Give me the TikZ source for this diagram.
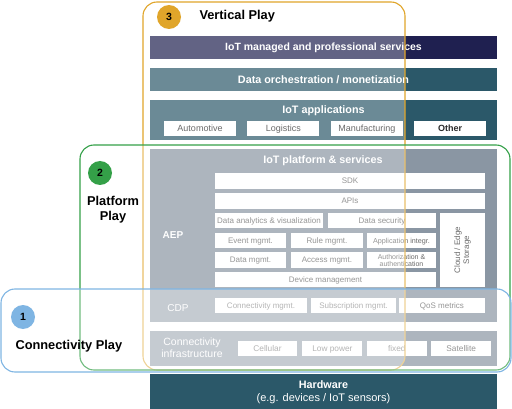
\documentclass[tikz,border=0pt]{standalone}
\usepackage{fontspec}
\setmainfont{Liberation Sans}
\usetikzlibrary{positioning}

\definecolor{navy}{HTML}{1F2050}
\definecolor{teal}{HTML}{2B5869}
\definecolor{slate}{HTML}{58697C}
\definecolor{subtext}{HTML}{2A2A2A}
\definecolor{vertical}{HTML}{E0A52A}
\definecolor{platform}{HTML}{34A048}
\definecolor{connect}{HTML}{7FB5E3}

\begin{document}
\begin{tikzpicture}[x=1pt, y=-1pt,
    layer/.style={rectangle, inner sep=0pt, minimum width=347pt},
    title/.style={text=white, font=\bfseries\fontsize{10.8}{12}\selectfont},
    side/.style={text=white, font=\fontsize{10}{11}\selectfont, align=center},
    sub/.style={rectangle, fill=white, inner sep=0pt, text=subtext, font=\fontsize{8}{9}\selectfont, minimum height=15pt, text height=0.72em, text depth=0.2em},
    app/.style={sub, minimum width=72pt, font=\fontsize{9}{10}\selectfont},
    link/.style={sub, minimum width=60pt, font=\fontsize{8.3}{9}\selectfont},
    play/.style={rounded corners=14pt, line width=1.1pt, fill=white, fill opacity=0.3},
    badge/.style={circle, minimum size=24pt, inner sep=0pt, font=\bfseries\fontsize{10.5}{12}\selectfont},
    playlabel/.style={font=\bfseries\fontsize{12.8}{15}\selectfont, align=center}
]
\useasboundingbox (0,0) rectangle (512,409);

% layers of the stack
\node[layer, fill=navy, minimum height=23pt] (managed) at (323.5,47.5) {};
\node[title, font=\bfseries\fontsize{10.5}{12}\selectfont] (managed_label) at (managed) {IoT managed and professional services};

\node[layer, fill=teal, minimum height=23pt] (orchestration) at (323.5,79.5) {};
\node[title] (orchestration_label) at (orchestration) {Data orchestration / monetization};

\node[layer, fill=teal, minimum height=40pt] (applications) at (323.5,120) {};
\node[title] (applications_label) at (323.5,111) {IoT applications};
\node[app] (automotive) at (200,128.5) {Automotive};
\node[app, right=11pt of automotive] (logistics) {Logistics};
\node[app, right=11pt of logistics] (manufacturing) {Manufacturing};
\node[app, right=11pt of manufacturing, font=\bfseries\fontsize{9}{10}\selectfont] (other) {Other};

\node[layer, fill=slate, minimum height=173pt] (platform_box) at (323.5,235.5) {};
\node[title] (platform_label) at (323,161) {IoT platform \& services};
\node[side, font=\bfseries\fontsize{10}{11}\selectfont] (aep) at (173,235) {AEP};
\node[side] (cdp) at (178,308) {CDP};

\node[sub, minimum width=270pt, minimum height=16pt] (sdk) at (350,181) {SDK};
\node[sub, minimum width=270pt, minimum height=16pt] (apis) at (350,201) {APIs};
\node[sub, minimum width=108pt] (analytics) at (269,220.5) {Data analytics \& visualization};
\node[sub, minimum width=108pt] (security) at (382,220.5) {Data security};
\node[sub, minimum width=71pt] (event) at (250.5,240.5) {Event mgmt.};
\node[sub, minimum width=72pt] (rule) at (327,240.5) {Rule mgmt.};
\node[sub, minimum width=69pt, font=\fontsize{7.2}{8}\selectfont] (integration) at (401.5,240.5) {Application integr.};
\node[sub, minimum width=71pt, minimum height=16pt] (data_mgmt) at (250.5,260) {Data mgmt.};
\node[sub, minimum width=72pt, minimum height=16pt] (access) at (327,260) {Access mgmt.};
\node[sub, minimum width=69pt, minimum height=16pt] (authorization) at (401.5,260) {};
\node[text=subtext, font=\fontsize{7}{7}\selectfont, align=center, inner sep=0pt] (authorization_label) at (authorization) {Authorization \&\\authentication};
\node[sub, minimum width=221pt] (device) at (325.5,279.5) {Device management};
\node[sub, minimum width=45pt, minimum height=74pt] (storage) at (462.5,250) {};
\node[rotate=90, text=subtext, font=\fontsize{8}{9}\selectfont, align=center] (storage_label) at (storage) {Cloud / Edge\\Storage};

\node[sub, minimum width=92pt] (connectivity_mgmt) at (261,305.5) {Connectivity mgmt.};
\node[sub, minimum width=85pt] (subscription) at (353.5,305.5) {Subscription mgmt.};
\node[sub, minimum width=86pt] (qos) at (442,305.5) {QoS metrics};

\node[layer, fill=slate, minimum height=35pt] (infrastructure) at (323.5,348.5) {};
\node[side, font=\fontsize{10.5}{12}\selectfont] (infrastructure_label) at (192,348) {Connectivity\\infrastructure};
\node[link, minimum width=59pt] (cellular) at (267.5,348.5) {Cellular};
\node[link, right=5pt of cellular] (low_power) {Low power};
\node[link, right=4pt of low_power] (fixed) {fixed};
\node[link, right=4pt of fixed] (satellite) {Satellite};

\node[layer, fill=teal, minimum height=36pt] (hardware) at (323.5,392) {};
\node[title] (hardware_label) at (323.5,385) {Hardware};
\node[text=white, font=\fontsize{11}{12}\selectfont] (hardware_note) at (323.5,398.5) {(e.g. devices / IoT sensors)};

% the three plays
\draw[play, draw=vertical] (143,2) rectangle (405,370);
\draw[play, draw=platform] (80,145) rectangle (510,370);
\draw[play, draw=connect] (1,289) rectangle (511,372);

\node[badge, fill=vertical] (badge_three) at (169,17) {3};
\node[playlabel, anchor=west] (vertical_label) at (196,16) {Vertical Play};
\node[badge, fill=platform] (badge_two) at (100,173) {2};
\node[playlabel] (platform_play) at (113,210) {Platform\\Play};
\node[badge, fill=connect] (badge_one) at (23,317) {1};
\node[playlabel, anchor=west] (connectivity_play) at (12,346) {Connectivity Play};

\end{tikzpicture}
\end{document}
